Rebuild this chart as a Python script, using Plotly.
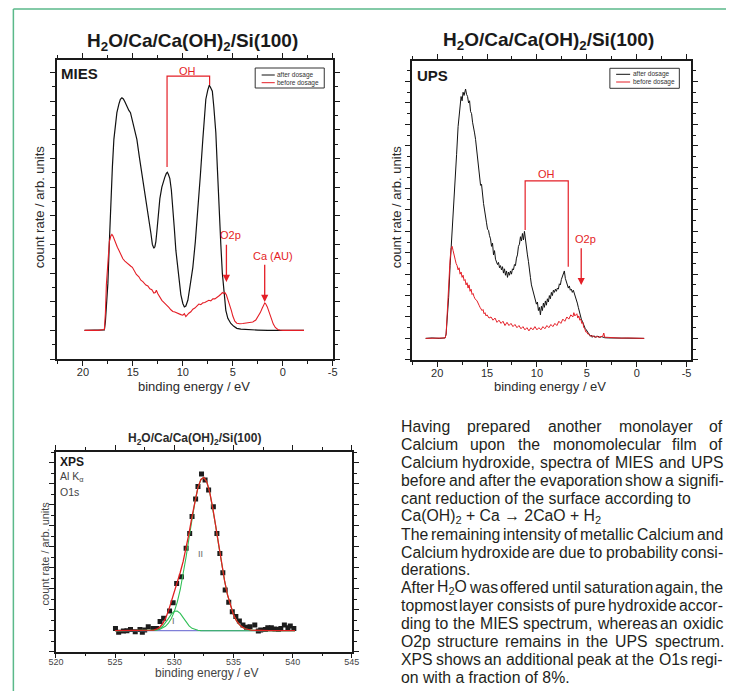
import re
import plotly.graph_objects as go

# ------------------------------------------------------------------ data
# MIES, H2O/Ca/Ca(OH)2/Si(100): binding energy (eV) and count rate (arb. units)
mies_after_e = [19.84, 18.5, 17.85, 17.75, 17.6, 17.5, 17.35, 17.2, 17.05, 16.9,
                16.75, 16.6, 16.4, 16.25, 16.1, 15.95, 15.8, 15.6, 15.4, 15.24,
                15.0, 14.8, 14.6, 14.35, 14.1, 13.85, 13.6, 13.4, 13.2, 13.05,
                12.9, 12.8, 12.7, 12.6, 12.47, 12.3, 12.1, 11.95, 11.8, 11.65,
                11.55, 11.45, 11.3, 11.15, 11.0, 10.85, 10.7, 10.5, 10.35, 10.2,
                10.0, 9.85, 9.7, 9.5, 9.3, 9.0, 8.75, 8.5, 8.25, 8.0,
                7.85, 7.7, 7.5, 7.35, 7.25, 7.15, 7.05, 6.9, 6.7, 6.55,
                6.4, 6.2, 6.05, 5.9, 5.7, 5.5, 5.2, 4.9, 4.6, 4.2,
                3.5, 2.5, 1.5, 0.5, -2.12]
mies_after_y = [0.0, 0.0, 0.02, 0.3, 1.0, 1.64, 3.1, 4.56, 5.7, 6.67,
                7.2, 7.6, 7.9, 8.07, 8.12, 8.08, 7.98, 7.8, 7.68, 7.6,
                7.25, 6.95, 6.67, 6.05, 5.5, 4.85, 4.33, 3.85, 3.4, 3.0,
                2.87, 2.92, 3.1, 3.45, 3.98, 4.6, 5.0, 5.2, 5.35, 5.48,
                5.52, 5.45, 5.3, 4.9, 4.33, 3.55, 2.8, 2.15, 1.64, 1.25,
                0.94, 0.82, 0.85, 1.05, 1.5, 2.2, 3.1, 4.1, 5.4, 6.67,
                7.4, 8.07, 8.4, 8.56, 8.5, 8.42, 8.35, 7.8, 6.9, 5.7,
                4.33, 3.0, 2.0, 1.3, 0.7, 0.42, 0.24, 0.14, 0.07, 0.04,
                0.02, 0.01, 0.0, 0.0, 0.0]
mies_before_e = [19.84, 18.5, 17.85, 17.75, 17.65, 17.5, 17.35, 17.2, 17.1, 17.0,
                 16.85, 16.7, 16.55, 16.4, 16.2, 16.0, 15.8, 15.6, 15.4, 15.2,
                 15.05, 14.85, 14.65, 14.4, 14.2, 14.0, 13.7, 13.5, 13.3, 13.1,
                 12.9, 12.75, 12.65, 12.5, 12.3, 12.1, 11.9, 11.65, 11.4, 11.2,
                 11.0, 10.8, 10.6, 10.4, 10.2, 10.0, 9.85, 9.7, 9.55, 9.4,
                 9.2, 9.0, 8.8, 8.6, 8.4, 8.2, 8.0, 7.8, 7.6, 7.4,
                 7.2, 7.0, 6.8, 6.6, 6.4, 6.2, 6.05, 5.95, 5.8, 5.65,
                 5.5, 5.35, 5.15, 5.0, 4.8, 4.6, 4.3, 4.0, 3.7, 3.4,
                 3.0, 2.7, 2.45, 2.25, 2.05, 1.9, 1.8, 1.7, 1.55, 1.35,
                 1.15, 0.95, 0.75, 0.5, 0.3, 0.0, -2.12]
mies_before_y = [0.0, 0.0, 0.03, 0.6, 1.6, 2.6, 3.1, 3.3, 3.35, 3.3,
                 3.15, 3.0, 2.9, 2.8, 2.62, 2.5, 2.42, 2.35, 2.28, 2.24,
                 2.2, 2.05, 1.95, 1.87, 1.75, 1.7, 1.58, 1.55, 1.45, 1.42,
                 1.3, 1.32, 1.4, 1.28, 1.15, 1.05, 0.98, 0.87, 0.8, 0.72,
                 0.66, 0.64, 0.6, 0.58, 0.55, 0.53, 0.58, 0.48, 0.55, 0.6,
                 0.65, 0.74, 0.78, 0.86, 0.92, 0.9, 0.96, 0.97, 1.02, 1.05,
                 1.03, 1.1, 1.1, 1.14, 1.2, 1.26, 1.32, 1.29, 1.32, 1.24,
                 1.1, 0.95, 0.7, 0.5, 0.32, 0.25, 0.23, 0.24, 0.26, 0.27,
                 0.29, 0.36, 0.5, 0.62, 0.78, 0.92, 0.96, 0.92, 0.82, 0.62,
                 0.42, 0.22, 0.1, 0.03, 0.01, 0.0, 0.0]

# UPS
ups_after_e = [21.15, 20.5, 19.8, 19.2, 19.1, 18.95, 18.85, 18.7, 18.55, 18.4,
               18.2, 18.05, 17.9, 17.8, 17.7, 17.6, 17.5, 17.4, 17.3, 17.2,
               17.15, 17.05, 16.95, 16.85, 16.75, 16.65, 16.55, 16.45, 16.35, 16.25,
               16.15, 16.05, 15.95, 15.85, 15.75, 15.65, 15.55, 15.45, 15.35, 15.25,
               15.15, 15.05, 14.95, 14.85, 14.75, 14.65, 14.55, 14.45, 14.35, 14.25,
               14.15, 14.05, 13.95, 13.85, 13.75, 13.65, 13.55, 13.45, 13.35, 13.25,
               13.15, 13.05, 12.95, 12.85, 12.75, 12.65, 12.55, 12.45, 12.35, 12.25,
               12.15, 12.05, 11.95, 11.85, 11.75, 11.65, 11.55, 11.45, 11.35, 11.25,
               11.15, 11.05, 10.95, 10.85, 10.75, 10.65, 10.55, 10.45, 10.35, 10.25,
               10.15, 10.05, 9.95, 9.85, 9.75, 9.65, 9.55, 9.45, 9.35, 9.25,
               9.15, 9.05, 8.95, 8.85, 8.75, 8.65, 8.55, 8.45, 8.35, 8.25,
               8.15, 8.05, 7.95, 7.85, 7.75, 7.65, 7.55, 7.45, 7.35, 7.25,
               7.15, 7.05, 6.95, 6.85, 6.75, 6.65, 6.55, 6.45, 6.35, 6.25,
               6.15, 6.05, 5.95, 5.85, 5.75, 5.65, 5.55, 5.45, 5.35, 5.25,
               5.15, 5.05, 4.95, 4.85, 4.75, 4.65, 4.55, 4.45, 4.3, 4.1,
               3.9, 3.7, 3.5, 3.2, 2.8, 2.0, 1.0, -0.75]
ups_after_y = [0.0, 0.02, 0.0, 0.02, 0.2, 1.2, 1.9, 3.4, 4.5, 5.6,
               7.1, 8.6, 9.9, 10.3, 10.9, 11.3, 11.1, 11.5, 11.35, 11.55,
               11.65, 11.4, 11.3, 11.0, 11.1, 10.6, 10.5, 10.1, 9.9, 9.6,
               9.3, 8.9, 8.4, 8.1, 7.6, 7.15, 7.2, 6.6, 6.3, 6.0,
               5.55, 5.4, 5.1, 5.05, 4.8, 4.65, 4.3, 4.45, 3.9, 4.1,
               3.7, 3.6, 3.45, 3.55, 3.3, 3.4, 3.2, 3.35, 3.05, 3.25,
               2.95, 3.15, 2.85, 3.1, 2.95, 3.15, 3.0, 3.25, 3.2, 3.45,
               3.4, 3.75, 3.9, 4.3, 4.4, 4.75, 4.55, 4.9, 4.6, 5.0,
               4.55, 4.3, 3.9, 3.6, 3.05, 2.85, 2.5, 2.3, 2.15, 1.9,
               1.85, 1.6, 1.7, 1.3, 1.45, 1.1, 1.5, 1.3, 1.65, 1.45,
               1.75, 1.55, 1.85, 1.7, 2.0, 1.85, 2.15, 2.0, 2.25, 2.15,
               2.3, 2.2, 2.35, 2.3, 2.55, 2.5, 2.75, 2.9, 3.05, 3.15,
               2.8, 2.6, 2.45, 2.35, 2.45, 2.25, 2.3, 2.15, 2.25, 2.1,
               2.05, 1.85, 1.65, 1.45, 1.25, 1.1, 0.9, 0.8, 0.65, 0.55,
               0.45, 0.4, 0.3, 0.25, 0.2, 0.1, 0.15, 0.05, 0.12, 0.05,
               0.1, 0.05, 0.08, 0.03, 0.02, 0.01, 0.0, 0.0]
ups_before_e = [21.15, 20.5, 19.8, 19.2, 19.1, 19.0, 18.9, 18.8, 18.7, 18.6,
                18.5, 18.4, 18.3, 18.2, 18.1, 18.0, 17.9, 17.8, 17.7, 17.6,
                17.5, 17.4, 17.3, 17.2, 17.1, 17.0, 16.9, 16.8, 16.7, 16.6,
                16.5, 16.4, 16.3, 16.2, 16.0, 15.9, 15.8, 15.7, 15.6, 15.5,
                15.4, 15.3, 15.2, 15.1, 15.0, 14.8, 14.6, 14.4, 14.2, 14.0,
                13.8, 13.6, 13.4, 13.2, 13.0, 12.8, 12.6, 12.4, 12.2, 12.0,
                11.8, 11.6, 11.4, 11.2, 11.0, 10.8, 10.6, 10.4, 10.2, 10.0,
                9.8, 9.6, 9.4, 9.2, 9.0, 8.8, 8.6, 8.4, 8.2, 8.0,
                7.8, 7.6, 7.4, 7.2, 7.0, 6.8, 6.6, 6.4, 6.3, 6.2,
                6.0, 5.9, 5.8, 5.7, 5.6, 5.5, 5.4, 5.3, 5.2, 5.1,
                5.0, 4.9, 4.8, 4.6, 4.4, 4.2, 4.0, 3.8, 3.6, 3.4,
                3.3, 3.2, 3.0, 2.5, 2.0, 1.5, 1.0, 0.0, -0.75]
ups_before_y = [0.0, 0.01, 0.0, 0.02, 0.2, 1.2, 2.1, 3.0, 3.7, 4.2,
                4.3, 4.1, 3.8, 3.7, 3.5, 3.4, 3.2, 3.3, 3.0, 3.1,
                2.85, 2.95, 2.7, 2.75, 2.5, 2.6, 2.35, 2.5, 2.2, 2.3,
                2.05, 2.1, 1.95, 1.85, 1.75, 1.6, 1.55, 1.45, 1.4, 1.3,
                1.35, 1.15, 1.2, 1.05, 1.1, 0.95, 1.0, 0.85, 0.95, 0.75,
                0.85, 0.7, 0.8, 0.6, 0.75, 0.6, 0.7, 0.55, 0.65, 0.5,
                0.6, 0.45, 0.55, 0.4, 0.5, 0.35, 0.5, 0.4, 0.55, 0.4,
                0.5, 0.4, 0.55, 0.45, 0.6, 0.5, 0.65, 0.55, 0.7, 0.6,
                0.8, 0.7, 0.9, 0.8, 1.0, 0.9, 1.1, 1.0, 1.2, 1.05,
                1.15, 0.95, 1.05, 0.85, 0.9, 0.7, 0.75, 0.5, 0.45, 0.3,
                0.3, 0.2, 0.2, 0.1, 0.12, 0.05, 0.1, 0.05, 0.08, 0.1,
                0.25, 0.05, 0.05, 0.03, 0.02, 0.01, 0.02, 0.0, 0.0]

# XPS O1s: measured points
xps_e = [525.03, 525.3, 525.7, 526.0, 526.3, 526.7, 527.1, 527.3, 527.5, 527.8,
         528.2, 528.5, 528.8, 529.1, 529.6, 529.9, 530.2, 530.6, 531.0, 531.3,
         531.5, 531.8, 532.0, 532.3, 532.6, 532.9, 533.3, 533.6, 533.85, 534.1,
         534.3, 534.6, 534.9, 535.2, 535.5, 535.8, 536.1, 536.4, 536.8, 537.1,
         537.3, 537.7, 537.9, 538.2, 538.5, 538.8, 539.0, 539.3, 539.6, 539.8,
         540.1]
xps_counts = [0.11, -0.08, -0.02, 0.0, 0.06, -0.05, 0.06, -0.08, 0.03, 0.19,
              0.11, 0.11, 0.44, 0.59, 0.94, 1.33, 2.25, 2.57, 3.92, 4.63,
              5.43, 6.27, 6.86, 7.46, 7.17, 6.70, 5.90, 4.63, 3.68, 2.76,
              1.94, 1.35, 0.90, 0.67, 0.46, 0.27, 0.16, 0.19, 0.27, -0.02,
              0.03, 0.06, 0.14, 0.14, 0.08, 0.06, 0.11, 0.27, 0.14, 0.22,
              0.11]
# XPS fit components
xps_fit_e = [525.0, 526.0, 527.0, 527.5, 528.0, 528.25, 528.5, 528.75, 529.0, 529.25,
             529.5, 529.75, 530.0, 530.25, 530.5, 530.75, 531.0, 531.25, 531.5, 531.75,
             532.0, 532.25, 532.5, 532.75, 533.0, 533.25, 533.5, 533.75, 534.0, 534.25,
             534.5, 534.75, 535.0, 535.25, 535.5, 535.75, 536.0, 536.5, 537.0, 537.5,
             538.0, 539.0, 540.2]
xps_peak_I = [0.0, 0.0, 0.0, 0.001, 0.004, 0.013, 0.038, 0.093, 0.199, 0.364,
              0.576, 0.786, 0.925, 0.939, 0.822, 0.620, 0.404, 0.227, 0.110, 0.046,
              0.017, 0.005, 0.001, 0.0, 0.0, 0.0, 0.0, 0.0, 0.0, 0.0,
              0.0, 0.0, 0.0, 0.0, 0.0, 0.0, 0.0, 0.0, 0.0, 0.0,
              0.0, 0.0, 0.0]
xps_peak_II = [0.0, 0.0, 0.0, 0.001, 0.008, 0.016, 0.032, 0.063, 0.117, 0.208,
               0.356, 0.581, 0.908, 1.359, 1.950, 2.677, 3.518, 4.428, 5.336, 6.158,
               6.804, 7.199, 7.293, 7.075, 6.572, 5.845, 4.978, 4.059, 3.170, 2.370,
               1.697, 1.163, 0.764, 0.480, 0.289, 0.166, 0.092, 0.025, 0.005, 0.001,
               0.0, 0.0, 0.0]
xps_fit_total = [0.0, 0.0, 0.0, 0.002, 0.012, 0.029, 0.070, 0.156, 0.316, 0.572,
                 0.932, 1.367, 1.833, 2.298, 2.772, 3.297, 3.922, 4.655, 5.446, 6.204,
                 6.821, 7.204, 7.294, 7.075, 6.572, 5.845, 4.978, 4.059, 3.170, 2.370,
                 1.697, 1.163, 0.764, 0.480, 0.289, 0.166, 0.092, 0.025, 0.005, 0.001,
                 0.0, 0.0, 0.0]
xps_background_e = [525.0, 540.2]
xps_background = [0.0, 0.0]

# tick labels
spectra_ticks = [20, 15, 10, 5, 0, -5]
spectra_tick_labels = ["20", "15", "10", "5", "0", "-5"]
xps_ticks = [520, 525, 530, 535, 540, 545]
xps_tick_labels = ["520", "525", "530", "535", "540", "545"]

# body text (one entry per printed line, flag = justified)
body_lines = [
    ("Having prepared another monolayer of", True),
    ("Calcium upon the monomolecular film of", True),
    ("Calcium hydroxide, spectra of MIES and UPS", True),
    ("before and after the evaporation show a signifi-", True),
    ("cant reduction of the surface according to", False),
    ("Ca(OH)<sub>2</sub> + Ca \u2192 2CaO + H<sub>2</sub>", False),
    ("The remaining intensity of metallic Calcium and", True),
    ("Calcium hydroxide are due to probability consi-", True),
    ("derations.", False),
    ("After H<sub>2</sub>O was offered until saturation again, the", True),
    ("topmost layer consists of pure hydroxide accor-", True),
    ("ding to the MIES spectrum, whereas an oxidic", True),
    ("O2p structure remains in the UPS spectrum.", True),
    ("XPS shows an additional peak at the O1s regi-", True),
    ("on with a fraction of 8%.", False),
]

for a, b in [(mies_after_e, mies_after_y), (mies_before_e, mies_before_y),
             (ups_after_e, ups_after_y), (ups_before_e, ups_before_y),
             (xps_e, xps_counts), (xps_fit_e, xps_peak_I), (xps_fit_e, xps_peak_II),
             (xps_fit_e, xps_fit_total)]:
    assert len(a) == len(b), (len(a), len(b))

# ------------------------------------------------------------------ style helpers
W, H = 734, 691
FONT = "Liberation Sans, Arial, Helvetica, sans-serif"
AX = "#1a1a1a"
RED = "#e41e26"
BLACK = "#111111"
TXT = "#231f20"


def px(x):
    return x / W


def py(y):
    return 1 - y / H


fig = go.Figure()

# MIES
fig.add_trace(go.Scatter(x=mies_after_e, y=mies_after_y, mode="lines", name="after dosage",
                         line=dict(color=BLACK, width=1.2), xaxis="x", yaxis="y", showlegend=False))
fig.add_trace(go.Scatter(x=mies_before_e, y=mies_before_y, mode="lines", name="before dosage",
                         line=dict(color=RED, width=1.1), xaxis="x", yaxis="y", showlegend=False))
# UPS
fig.add_trace(go.Scatter(x=ups_after_e, y=ups_after_y, mode="lines", name="after dosage",
                         line=dict(color=BLACK, width=1.0), xaxis="x2", yaxis="y2", showlegend=False))
fig.add_trace(go.Scatter(x=ups_before_e, y=ups_before_y, mode="lines", name="before dosage",
                         line=dict(color=RED, width=1.0), xaxis="x2", yaxis="y2", showlegend=False))
# XPS
fig.add_trace(go.Scatter(x=xps_e, y=xps_counts, mode="markers", name="data",
                         marker=dict(symbol="square", size=5, color="#1c1c1c"),
                         xaxis="x3", yaxis="y3", showlegend=False))
fig.add_trace(go.Scatter(x=xps_background_e, y=xps_background, mode="lines", name="background",
                         line=dict(color="#7f7fd8", width=1.2), xaxis="x3", yaxis="y3", showlegend=False))
fig.add_trace(go.Scatter(x=xps_fit_e, y=xps_peak_I, mode="lines", name="I",
                         line=dict(color="#2fbf55", width=1.1), xaxis="x3", yaxis="y3", showlegend=False))
fig.add_trace(go.Scatter(x=xps_fit_e, y=xps_peak_II, mode="lines", name="II",
                         line=dict(color="#2fbf55", width=1.1), xaxis="x3", yaxis="y3", showlegend=False))
fig.add_trace(go.Scatter(x=xps_fit_e, y=xps_fit_total, mode="lines", name="fit",
                         line=dict(color="#e02020", width=1.3), xaxis="x3", yaxis="y3", showlegend=False))


def xaxis_cfg(domain, rng, ticks, labels, anchor, fsize, fcolor, standoff):
    return dict(domain=domain, range=rng, anchor=anchor, tickmode="array", tickvals=ticks,
                ticktext=labels, ticks="outside", ticklen=5, tickwidth=1.2, tickcolor=AX,
                showline=True, linecolor=AX, linewidth=1.5, mirror="allticks",
                showgrid=False, zeroline=False, ticklabelstandoff=standoff,
                tickfont=dict(family=FONT, size=fsize, color=fcolor),
                minor=dict(tickmode="linear", tick0=0, dtick=2.5, ticks="outside",
                           ticklen=3, tickwidth=1, tickcolor=AX))


def yaxis_cfg(domain, rng, anchor):
    return dict(domain=domain, range=rng, anchor=anchor, tickmode="linear", tick0=0, dtick=1,
                showticklabels=False, ticks="outside", ticklen=5, tickwidth=1.2, tickcolor=AX,
                showline=True, linecolor=AX, linewidth=1.5, mirror="allticks",
                showgrid=False, zeroline=False,
                minor=dict(tickmode="linear", tick0=0, dtick=0.5, ticks="outside",
                           ticklen=3, tickwidth=1, tickcolor=AX))


fig.update_layout(
    width=W, height=H, margin=dict(l=0, r=0, t=0, b=0),
    paper_bgcolor="white", plot_bgcolor="white", showlegend=False,
    font=dict(family=FONT, color=TXT),
    xaxis=xaxis_cfg([px(50), px(332)], [22.6, -5], spectra_ticks, spectra_tick_labels, "y", 11, "#2b2b2b", -3),
    yaxis=yaxis_cfg([py(359), py(60)], [-1.0, 9.44], "x"),
    xaxis2=xaxis_cfg([px(413), px(698.7)], [22.52, -5.49], spectra_ticks, spectra_tick_labels, "y2", 11, "#2b2b2b", -3),
    yaxis2=yaxis_cfg([py(360), py(61)], [-1.01, 12.96], "x2"),
    xaxis3=xaxis_cfg([px(49), px(351.5)], [520, 545], xps_ticks, xps_tick_labels, "y3", 9, "#444444", -4),
    yaxis3=yaxis_cfg([py(651.7), py(451.7)], [-1.0, 8.52], "x3"),
)

ann = []
shapes = []


def label(x, y, text, size, color=TXT, xanchor="center", yanchor="middle", angle=0, xref="paper", yref="paper"):
    if xref == "paper":
        x = px(x)
    if yref == "paper":
        y = py(y)
    ann.append(dict(x=x, y=y, xref=xref, yref=yref, text=text, showarrow=False,
                    xanchor=xanchor, yanchor=yanchor, textangle=angle,
                    borderpad=0, borderwidth=0,
                    font=dict(family=FONT, size=size, color=color)))


TITLE = "<b>H<sub>2</sub>O/Ca/Ca(OH)<sub>2</sub>/Si(100)</b>"
# panel titles
label(189, 42, TITLE, 19, "#1a1a1a")
label(552.7, 41, TITLE, 19, "#1a1a1a")
label(190.5, 439.3, TITLE, 12, "#2b2b2b")
# panel tags
label(54.3, 73, "<b>MIES</b>", 15, "#1a1a1a", xanchor="left")
label(418, 75, "<b>UPS</b>", 15, "#1a1a1a", xanchor="left")
label(52.7, 462.3, "<b>XPS</b>", 12, "#1a1a1a", xanchor="left")
label(52.7, 477, "Al K<sub>\u03b1</sub>", 10.5, "#444444", xanchor="left")
label(52.7, 491.7, "O1s", 10.5, "#444444", xanchor="left")
# axis titles
label(32, 207, "count rate / arb. units", 13, "#2b2b2b", angle=-90)
label(397, 207, "count rate / arb. units", 13, "#2b2b2b", angle=-90)
label(38.3, 553, "count rate / arb. units", 11, "#444444", angle=-90)
label(190, 386, "binding energy / eV", 13, "#2b2b2b")
label(553.7, 386.7, "binding energy / eV", 13, "#2b2b2b")
label(203, 672.5, "binding energy / eV", 12, "#444444")

# red peak markings
def dlabel(x, y, text, axis, size=11, color=RED):
    ann.append(dict(x=x, y=y, xref=axis[0], yref=axis[1], text=text, showarrow=False,
                    xanchor="center", yanchor="middle", borderpad=0, borderwidth=0,
                    font=dict(family=FONT, size=size, color=color)))


def darrow(x, y_tip, ay, axis):
    ann.append(dict(x=x, y=y_tip, xref=axis[0], yref=axis[1], text="", showarrow=True,
                    ax=0, ay=ay, arrowhead=2, arrowsize=1.1, arrowwidth=1.3, arrowcolor=RED,
                    standoff=0, startstandoff=0))


dlabel(9.58, 9.07, "OH", ("x", "y"))
dlabel(5.25, 3.32, "O2p", ("x", "y"))
darrow(5.64, 1.69, -38.7, ("x", "y"))
dlabel(0.99, 2.59, "Ca (AU)", ("x", "y"))
darrow(1.81, 0.99, -38.7, ("x", "y"))
shapes.append(dict(type="path", xref="x", yref="y",
                   path="M 11.58,5.70 L 11.58,8.88 L 7.32,8.88 L 7.32,8.57",
                   line=dict(color=RED, width=1.2)))

dlabel(9.06, 7.68, "OH", ("x2", "y2"))
dlabel(5.14, 4.64, "O2p", ("x2", "y2"))
darrow(5.56, 2.49, -38.3, ("x2", "y2"))
shapes.append(dict(type="path", xref="x2", yref="y2",
                   path="M 11.18,5.06 L 11.18,7.36 L 6.86,7.36 L 6.86,3.35",
                   line=dict(color=RED, width=1.2)))

dlabel(532.2, 3.64, "II", ("x3", "y3"), size=9, color="#666666")
dlabel(529.97, 0.46, "I", ("x3", "y3"), size=9, color="#666666")

# legends drawn as small framed keys
def legend_box(x0, x1, y0, y1, lx0, lx1, tx, ly1, ly2):
    shapes.append(dict(type="rect", xref="paper", yref="paper", x0=px(x0), x1=px(x1),
                       y0=py(y1), y1=py(y0), line=dict(color="#333333", width=1)))
    shapes.append(dict(type="line", xref="paper", yref="paper", x0=px(lx0), x1=px(lx1),
                       y0=py(ly1), y1=py(ly1), line=dict(color=BLACK, width=1)))
    shapes.append(dict(type="line", xref="paper", yref="paper", x0=px(lx0), x1=px(lx1),
                       y0=py(ly2), y1=py(ly2), line=dict(color=RED, width=1)))
    label(tx, ly1, "after dosage", 6.5, "#333333", xanchor="left")
    label(tx, ly2, "before dosage", 6.5, "#333333", xanchor="left")


legend_box(252.7, 323.3, 68, 88, 259.3, 272.7, 275, 75, 82.7)
legend_box(615.3, 686.3, 68.3, 88.3, 621.7, 636, 639, 74.3, 82)

# page frame (green)
shapes.append(dict(type="line", xref="paper", yref="paper", x0=px(5.5), x1=px(5.5),
                   y0=0, y1=py(9), line=dict(color="#5ab98a", width=1.5)))
shapes.append(dict(type="line", xref="paper", yref="paper", x0=px(5.5), x1=1,
                   y0=py(9), y1=py(9), line=dict(color="#5ab98a", width=1.5)))

# ------------------------------------------------------------------ justified body text
AW = {' ': 278, '!': 278, '%': 889, '(': 333, ')': 333, '+': 584, ',': 278, '-': 333,
      '.': 278, '/': 278, ':': 278, '\u2192': 1000,
      'A': 667, 'B': 667, 'C': 722, 'D': 722, 'E': 667, 'F': 611, 'G': 778, 'H': 722,
      'I': 278, 'J': 500, 'K': 667, 'L': 556, 'M': 833, 'N': 722, 'O': 778, 'P': 667,
      'Q': 778, 'R': 722, 'S': 667, 'T': 611, 'U': 722, 'V': 667, 'W': 944, 'X': 667,
      'Y': 667, 'Z': 611,
      'a': 556, 'b': 556, 'c': 500, 'd': 556, 'e': 556, 'f': 278, 'g': 556, 'h': 556,
      'i': 222, 'j': 222, 'k': 500, 'l': 222, 'm': 833, 'n': 556, 'o': 556, 'p': 556,
      'q': 556, 'r': 333, 's': 500, 't': 278, 'u': 556, 'v': 500, 'w': 722, 'x': 500,
      'y': 500, 'z': 500}


def text_width(s, size):
    total = 0.0
    for part in re.split(r"(<sub>.*?</sub>)", s):
        if part.startswith("<sub>"):
            total += 0.7 * sum(AW.get(c, 556) for c in part[5:-6])
        else:
            total += sum(AW.get(c, 556) for c in part)
    return total * size / 1000.0


BODY_SIZE = 15.8
LEFT, RIGHT = 401.3, 730.3
for i, (line, just) in enumerate(body_lines):
    yc = 426.6 + 17.92 * i
    if not just:
        label(LEFT, yc, line, BODY_SIZE, TXT, xanchor="left")
        continue
    words = line.split(" ")
    widths = [text_width(w, BODY_SIZE) for w in words]
    gap = (RIGHT - LEFT - sum(widths)) / (len(words) - 1)
    x = LEFT
    for w, wd in zip(words, widths):
        label(x, yc, w, BODY_SIZE, TXT, xanchor="left")
        x += wd + gap

fig.update_layout(annotations=ann, shapes=shapes)
# the page body gets no default 8px margin so the figure sits at the window origin
fig.write_html("out.html", config={"displayModeBar": False},
               post_script="document.body.style.margin='0px';")
